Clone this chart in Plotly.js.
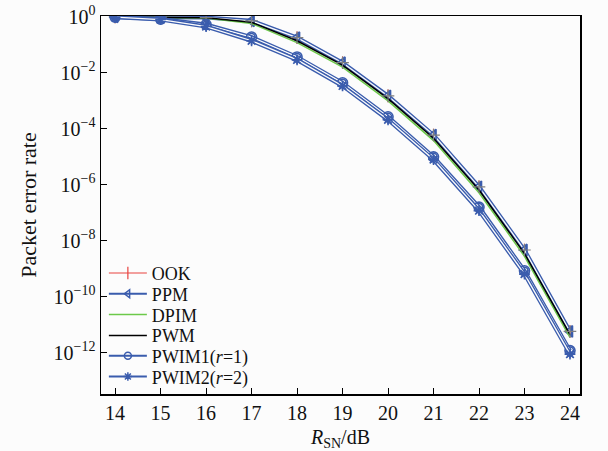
<!DOCTYPE html>
<html>
<head>
<meta charset="utf-8">
<script src="https://cdn.plot.ly/plotly-3.0.1.min.js"></script>
<style>html,body{margin:0;padding:0;background:#fcfcfc;}#chart{width:608px;height:451px;}</style>
</head>
<body>
<div id="chart"></div>
<script>
const snr = [14, 15, 16, 17, 18, 19, 20, 21, 22, 23, 24];
const ook   = [0.99, 0.97, 0.94, 0.72, 0.18, 0.023, 1.5e-3, 6.0e-5, 8.5e-7, 4.7e-9, 5.8e-12];
const ppm   = [0.99, 0.97, 0.94, 0.72, 0.18, 0.023, 1.5e-3, 6.0e-5, 8.5e-7, 4.7e-9, 5.8e-12];
const dpim  = [0.99, 0.96, 0.90, 0.58, 0.12, 0.016, 1.0e-3, 3.8e-5, 5.2e-7, 2.8e-9, 3.6e-12];
const pwm   = [0.99, 0.96, 0.92, 0.64, 0.14, 0.019, 1.2e-3, 4.6e-5, 6.5e-7, 3.5e-9, 4.5e-12];
const pwim1 = [0.98, 0.83, 0.53, 0.19, 0.037, 4.4e-3, 2.7e-4, 1.0e-5, 1.6e-7, 8.5e-10, 1.2e-12];
const pwim2 = [0.97, 0.80, 0.45, 0.14, 0.029, 3.4e-3, 2.1e-4, 8.0e-6, 1.2e-7, 6.5e-10, 9.0e-13];
const names = ['OOK', 'PPM', 'DPIM', 'PWM', 'PWIM1(<i>r</i>=1)', 'PWIM2(<i>r</i>=2)'];
const xTicks = [14, 15, 16, 17, 18, 19, 20, 21, 22, 23, 24];
const yTickVals = [1, 1e-2, 1e-4, 1e-6, 1e-8, 1e-10, 1e-12];
const yTickText = ['10<sup>0</sup>', '10<sup>\u22122</sup>', '10<sup>\u22124</sup>', '10<sup>\u22126</sup>',
                   '10<sup>\u22128</sup>', '10<sup>\u221210</sup>', '10<sup>\u221212</sup>'];

const blue = '#3a5cad';
const red = '#e8433f';
const core = '#fcfcfc';

// a "hollow" blue curve: legend entry + wide blue stroke + light core + markers on top
function hollow(y, name, symbol, msize) {
  return [
    {x: snr, y: y, name: name, mode: 'lines+markers', line: {color: blue, width: 2},
     marker: {symbol: symbol, size: 7, color: blue, line: {color: blue, width: 1.5}}},
    {x: snr, y: y, showlegend: false, mode: 'lines', line: {color: blue, width: 4}, hoverinfo: 'skip'},
    {x: snr, y: y, showlegend: false, mode: 'lines', line: {color: core, width: 1.3}, hoverinfo: 'skip'},
    {x: snr, y: y, showlegend: false, mode: 'markers', hoverinfo: 'skip',
     marker: {symbol: symbol, size: msize, color: blue, line: {color: blue, width: 1.6}}}
  ];
}

const traces = [
  {x: snr, y: ook, name: names[0], mode: 'lines+markers',
   line: {color: red, width: 1.2},
   marker: {symbol: 'line-ns-open', size: 9, line: {color: red, width: 1.2}}},
  ...hollow(ppm, names[1], 'triangle-left-open', 10),
  {x: snr, y: dpim, name: names[2], mode: 'lines', line: {color: '#6cc94a', width: 1.5}},
  {x: snr, y: pwm, name: names[3], mode: 'lines', line: {color: '#000000', width: 1.5}},
  {x: snr, y: ook, showlegend: false, mode: 'markers', hoverinfo: 'skip',
   marker: {symbol: 'cross-thin-open', size: 9, line: {color: red, width: 1.2}}},
  ...hollow(pwim1, names[4], 'circle-open', 10),
  ...hollow(pwim2, names[5], 'asterisk-open', 9)
];

const fam = '"Liberation Serif", "DejaVu Serif", serif';
const layout = {
  width: 608, height: 451,
  paper_bgcolor: '#fcfcfc', plot_bgcolor: '#fcfcfc',
  margin: {l: 101, r: 28, t: 16, b: 57},
  font: {family: fam, size: 18, color: '#111'},
  showlegend: true,
  legend: {x: 0.006, y: 0.0, xanchor: 'left', yanchor: 'bottom', bgcolor: 'rgba(0,0,0,0)',
           itemwidth: 38,
           font: {family: fam, size: 18, color: '#111'}, tracegroupgap: 0},
  xaxis: {
    range: [13.69, 24.22], tickvals: xTicks, ticktext: xTicks.map(String),
    ticks: 'inside', ticklen: 6, tickcolor: '#000', showline: true, linecolor: '#000', linewidth: 1.5,
    mirror: true, showgrid: false, zeroline: false,
    tickfont: {family: fam, size: 20, color: '#111'},
    title: {text: '<i>R</i><sub>SN</sub>/dB', font: {family: fam, size: 20, color: '#111'}, standoff: 7}
  },
  yaxis: {
    type: 'log', range: [-13.47, 0.03], tickvals: yTickVals, ticktext: yTickText,
    ticks: 'inside', ticklen: 6, tickcolor: '#000', showline: true, linecolor: '#000', linewidth: 1.5,
    mirror: true, showgrid: false, zeroline: false,
    tickfont: {family: fam, size: 20, color: '#111'},
    title: {text: 'Packet error rate', font: {family: fam, size: 22, color: '#111'}, standoff: 11}
  }
};
Plotly.newPlot('chart', traces, layout, {displayModeBar: false, staticPlot: true}).then(function () {
  // tighten the legend row spacing to match the reference
  const first = 274, step = 20.8;
  document.querySelectorAll('#chart .legend .traces').forEach(function (g, i) {
    const t = g.querySelector('text.legendtext');
    if (!t) return;
    const r = t.getBoundingClientRect();
    const cy = (r.top + r.bottom) / 2;
    const m = /translate\(\s*([-\d.e]+)[ ,]+([-\d.e]+)\s*\)/.exec(g.getAttribute('transform') || '');
    const tx = m ? parseFloat(m[1]) : 0, ty = m ? parseFloat(m[2]) : 0;
    g.setAttribute('transform', 'translate(' + tx + ',' + (ty + first + i * step - cy) + ')');
  });
});
</script>
</body>
</html>
